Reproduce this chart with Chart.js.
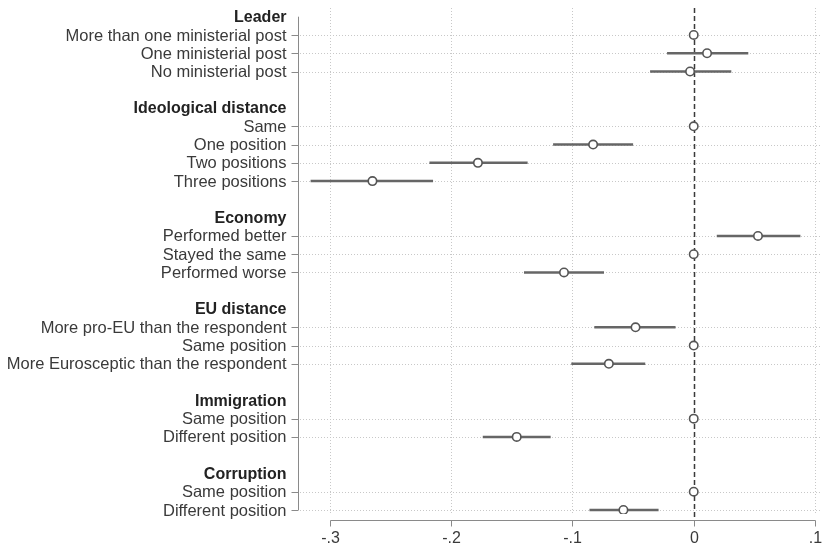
<!DOCTYPE html>
<html>
<head>
<meta charset="utf-8">
<script src="https://cdn.jsdelivr.net/npm/chart.js@4.4.0/dist/chart.umd.min.js"></script>
<style>
  html, body { margin: 0; padding: 0; background: #fff; }
</style>
</head>
<body>
<canvas id="coefChart" width="823" height="549"></canvas>
<script>
'use strict';

/*  DATA  */
// one slot per row, headers and blank spacer rows included (top to bottom)
const rowLabels = [
  'Leader', 'More than one ministerial post', 'One ministerial post', 'No ministerial post', '',
  'Ideological distance', 'Same', 'One position', 'Two positions', 'Three positions', '',
  'Economy', 'Performed better', 'Stayed the same', 'Performed worse', '',
  'EU distance', 'More pro-EU than the respondent', 'Same position', 'More Eurosceptic than the respondent', '',
  'Immigration', 'Same position', 'Different position', '',
  'Corruption', 'Same position', 'Different position'
];
// slots that hold a group heading (bold, no tick)
const headerRows = [0, 5, 11, 16, 21, 25];
// point estimates (null = no marker)
const estimates = [
  null, 0, 0.011, -0.003, null,
  null, 0, -0.083, -0.178, -0.265, null,
  null, 0.053, 0, -0.107, null,
  null, -0.048, 0, -0.070, null,
  null, 0, -0.146, null,
  null, 0, -0.058
];
// lower / upper bounds of the confidence intervals
const lowerCI = [
  null, null, -0.022, -0.036, null,
  null, null, -0.116, -0.218, -0.316, null,
  null, 0.019, null, -0.140, null,
  null, -0.082, null, -0.101, null,
  null, null, -0.174, null,
  null, null, -0.086
];
const upperCI = [
  null, null, 0.045, 0.031, null,
  null, null, -0.050, -0.137, -0.215, null,
  null, 0.088, null, -0.074, null,
  null, -0.015, null, -0.040, null,
  null, null, -0.118, null,
  null, null, -0.029
];
// x axis ticks
const xTicks = [-0.3, -0.2, -0.1, 0, 0.1];
const xTickLabels = ['-.3', '-.2', '-.1', '0', '.1'];


/*  HELPERS  */
const FONT = '"Liberation Sans", Arial, Helvetica, sans-serif';

function isCategory(i) {
  return rowLabels[i] !== '' && !headerRows.includes(i);
}

// points for the scatter dataset
let points = [];
for (let i = 0; i < estimates.length; i++) {
  if (estimates[i] !== null) {
    points.push({ x: estimates[i], y: i });
  }
}


/*  PLUGIN: grid, axes, reference line, CI bars  */
const coefPlot = {
  id: 'coefPlot',
  beforeDatasetsDraw(chart) {
    const ctx = chart.ctx;
    const area = chart.chartArea;
    const xs = chart.scales.x;
    const ys = chart.scales.y;
    ctx.save();

    // dotted grid lines
    ctx.strokeStyle = '#c8c8c8';
    ctx.lineWidth = 1;
    ctx.setLineDash([1, 2]);
    for (let t of xTicks) {
      if (t === 0) continue;
      const px = Math.round(xs.getPixelForValue(t)) + 0.5;
      ctx.beginPath();
      ctx.moveTo(px, area.top);
      ctx.lineTo(px, area.bottom);
      ctx.stroke();
    }
    for (let i = 0; i < rowLabels.length; i++) {
      if (!isCategory(i)) continue;
      const py = Math.round(ys.getPixelForValue(i)) + 0.5;
      ctx.beginPath();
      ctx.moveTo(area.left + 2, py);
      ctx.lineTo(area.right, py);
      ctx.stroke();
    }

    // dashed reference line at zero
    const zx = Math.round(xs.getPixelForValue(0)) + 0.5;
    ctx.strokeStyle = '#3a3a3a';
    ctx.lineWidth = 1.5;
    ctx.setLineDash([5, 3]);
    ctx.beginPath();
    ctx.moveTo(zx, area.top);
    ctx.lineTo(zx, area.bottom + 5);
    ctx.stroke();
    ctx.setLineDash([]);

    // y axis line, ticks and labels
    const axisX = area.left + 0.5;
    ctx.strokeStyle = '#8a8a8a';
    ctx.lineWidth = 1;
    ctx.beginPath();
    ctx.moveTo(axisX, ys.getPixelForValue(0));
    ctx.lineTo(axisX, ys.getPixelForValue(rowLabels.length - 1));
    ctx.stroke();
    ctx.textAlign = 'right';
    ctx.textBaseline = 'middle';
    for (let i = 0; i < rowLabels.length; i++) {
      if (rowLabels[i] === '') continue;
      const py = ys.getPixelForValue(i);
      if (headerRows.includes(i)) {
        ctx.font = 'bold 16px ' + FONT;
        ctx.fillStyle = '#222';
      } else {
        ctx.strokeStyle = '#8a8a8a';
        ctx.beginPath();
        ctx.moveTo(axisX - 7, Math.round(py) + 0.5);
        ctx.lineTo(axisX, Math.round(py) + 0.5);
        ctx.stroke();
        ctx.font = '16.5px ' + FONT;
        ctx.fillStyle = '#3a3a3a';
      }
      ctx.fillText(rowLabels[i], axisX - 12, py + 1);
    }

    // x axis line, ticks and labels
    const axisY = area.bottom + 6.5;
    const x0 = xs.getPixelForValue(xTicks[0]);
    const x1 = xs.getPixelForValue(xTicks[xTicks.length - 1]);
    ctx.strokeStyle = '#8a8a8a';
    ctx.beginPath();
    ctx.moveTo(Math.round(x0) + 0.5, axisY);
    ctx.lineTo(Math.round(x1) + 0.5, axisY);
    ctx.stroke();
    ctx.textAlign = 'center';
    ctx.textBaseline = 'middle';
    ctx.font = '16px ' + FONT;
    ctx.fillStyle = '#3a3a3a';
    for (let k = 0; k < xTicks.length; k++) {
      const px = Math.round(xs.getPixelForValue(xTicks[k])) + 0.5;
      ctx.beginPath();
      ctx.moveTo(px, axisY);
      ctx.lineTo(px, axisY + 6);
      ctx.stroke();
      ctx.fillText(xTickLabels[k], px, axisY + 18);
    }

    // confidence interval bars
    ctx.strokeStyle = '#666';
    ctx.lineWidth = 2.5;
    for (let i = 0; i < lowerCI.length; i++) {
      if (lowerCI[i] === null) continue;
      const py = ys.getPixelForValue(i);
      ctx.beginPath();
      ctx.moveTo(xs.getPixelForValue(lowerCI[i]), py);
      ctx.lineTo(xs.getPixelForValue(upperCI[i]), py);
      ctx.stroke();
    }
    ctx.restore();
  }
};


/*  CHART  */
const config = {
  type: 'scatter',
  data: {
    datasets: [{
      data: points,
      pointStyle: 'circle',
      pointRadius: 4.2,
      pointBorderWidth: 1.6,
      pointBorderColor: '#555',
      pointBackgroundColor: '#fff'
    }]
  },
  options: {
    responsive: false,
    animation: false,
    events: [],
    layout: {
      autoPadding: false,
      padding: { left: 298, right: 1, top: 8, bottom: 35 }
    },
    scales: {
      x: {
        type: 'linear',
        display: false,
        min: -0.3264,
        max: 0.1058
      },
      y: {
        type: 'linear',
        display: false,
        reverse: true,
        min: -0.476,
        max: 27.22
      }
    },
    plugins: {
      legend: { display: false },
      tooltip: { enabled: false }
    }
  },
  plugins: [coefPlot]
};

const myChart = new Chart(document.getElementById('coefChart'), config);
</script>
</body>
</html>
